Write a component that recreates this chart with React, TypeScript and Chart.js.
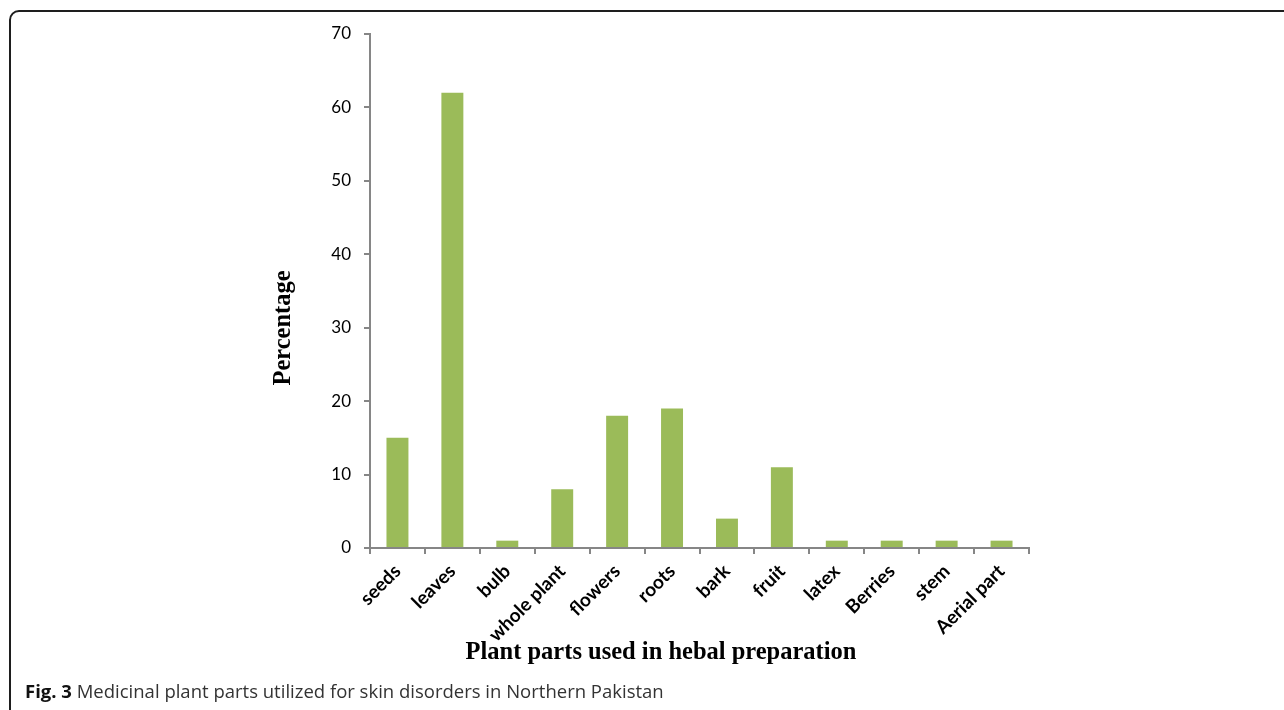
import React, { useEffect, useRef } from "react";
import { Chart, registerables } from "chart.js";

Chart.register(...registerables);

const categories = [
  "seeds",
  "leaves",
  "bulb",
  "whole plant",
  "flowers",
  "roots",
  "bark",
  "fruit",
  "latex",
  "Berries",
  "stem",
  "Aerial part",
];
const percentages = [15, 62, 1, 8, 18, 19, 4, 11, 1, 1, 1, 1];
const yMin = 0;
const yMax = 70;
const yStep = 10;
const xTitle = "Plant parts used in hebal preparation";
const yTitle = "Percentage";
const captionBold = "Fig. 3";
const captionText = " Medicinal plant parts utilized for skin disorders in Northern Pakistan";

const AXIS = "#868686";
const BAR = "#9BBB59";

const titlesPlugin = {
  id: "axisTitles",
  afterDraw(chart: any) {
    const { ctx, chartArea } = chart;
    ctx.save();
    ctx.fillStyle = "#000";
    ctx.font = "bold 24.5px 'Liberation Serif', 'Times New Roman', serif";
    ctx.textAlign = "center";
    ctx.textBaseline = "middle";
    // x title
    ctx.fillText(xTitle, chartArea.left + 291, chartArea.bottom + 105);
    // y title
    ctx.translate(chartArea.left - 86, chartArea.top + 294);
    ctx.rotate(-Math.PI / 2);
    ctx.fillText(yTitle, 0, 0);
    ctx.restore();
  },
};

function BarChart() {
  const ref = useRef<HTMLCanvasElement | null>(null);
  useEffect(() => {
    if (!ref.current) return;
    const chart = new Chart(ref.current, {
      type: "bar",
      data: {
        labels: categories,
        datasets: [
          {
            data: percentages,
            backgroundColor: BAR,
            borderWidth: 0,
            categoryPercentage: 1,
            barPercentage: 0.4,
          },
        ],
      },
      options: {
        animation: false,
        responsive: true,
        maintainAspectRatio: false,
        layout: { padding: { left: 260, right: 255, top: 34, bottom: 12 } },
        plugins: { legend: { display: false }, tooltip: { enabled: false } },
        scales: {
          x: {
            afterFit: (s: any) => {
              s.height = 120;
            },
            grid: {
              display: true,
              drawOnChartArea: false,
              drawTicks: true,
              tickLength: 6,
              color: AXIS,
              lineWidth: 2,
              offset: true,
            },
            border: { display: true, color: AXIS, width: 2 },
            ticks: {
              autoSkip: false,
              maxRotation: 45,
              minRotation: 45,
              padding: 6,
              color: "#000",
              font: { family: "Lato, 'Open Sans', sans-serif", size: 19, weight: "bold" },
            },
          },
          y: {
            min: yMin,
            max: yMax,
            afterFit: (s: any) => {
              s.width = 110;
            },
            grid: {
              display: true,
              drawOnChartArea: false,
              drawTicks: true,
              tickLength: 6,
              color: AXIS,
              lineWidth: 2,
            },
            border: { display: true, color: AXIS, width: 2 },
            ticks: {
              stepSize: yStep,
              padding: 13,
              color: "#000",
              font: { family: "Lato, 'Open Sans', sans-serif", size: 17 },
            },
          },
        },
      },
      plugins: [titlesPlugin],
    });
    return () => chart.destroy();
  }, []);
  return (
    <div style={{ position: "absolute", left: 0, top: 0, width: 1284, height: 680 }}>
      <canvas ref={ref} />
    </div>
  );
}

export default function App() {
  return (
    <div
      style={{
        position: "absolute",
        left: 0,
        top: 0,
        width: 1284,
        height: 710,
        overflow: "hidden",
        background: "#fff",
      }}
    >
      <div
        style={{
          position: "absolute",
          left: 9,
          top: 10,
          width: 1300,
          height: 740,
          border: "2px solid #1e1e1e",
          borderRadius: 10,
          boxSizing: "border-box",
        }}
      />
      <BarChart />
      <div
        style={{
          position: "absolute",
          left: 25,
          top: 678,
          fontFamily: "'Open Sans', 'Noto Sans', sans-serif",
          fontSize: 18.5,
          color: "#333",
          whiteSpace: "nowrap",
        }}
      >
        <b style={{ color: "#111" }}>{captionBold}</b>
        {captionText}
      </div>
    </div>
  );
}
